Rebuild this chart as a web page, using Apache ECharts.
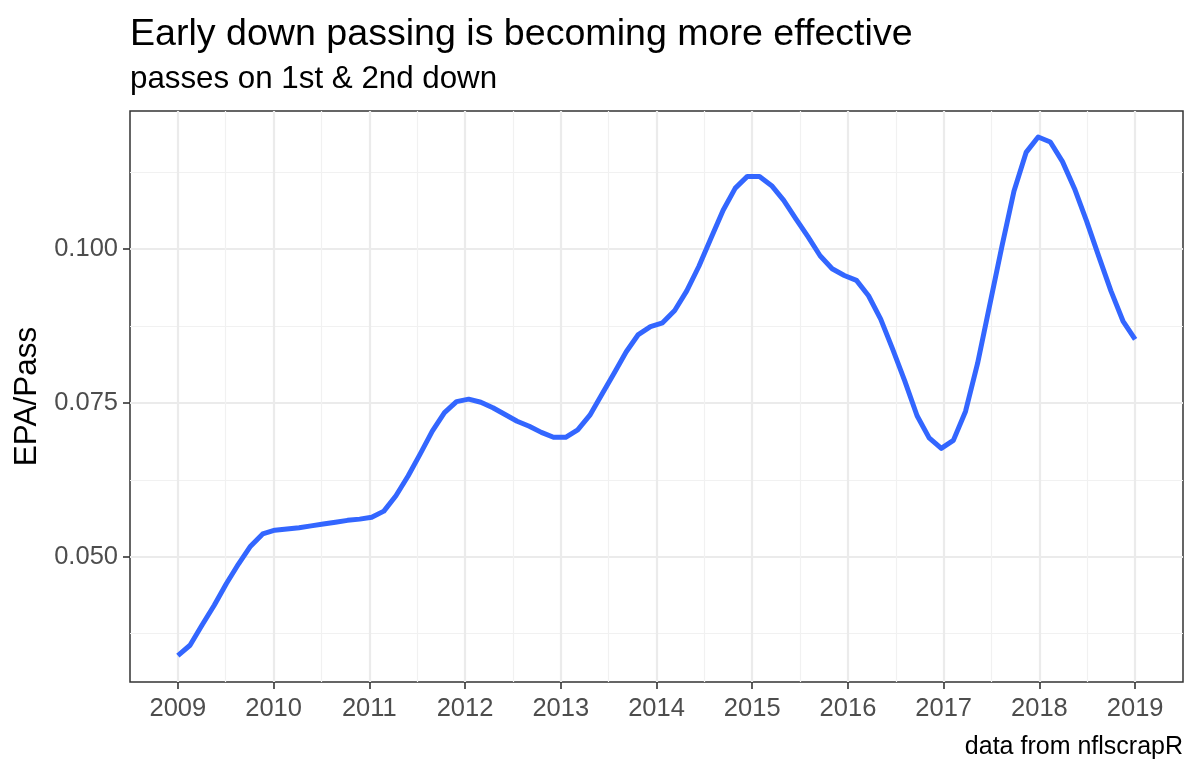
<!DOCTYPE html>
<html>
<head>
<meta charset="utf-8">
<script src="https://cdn.jsdelivr.net/npm/echarts@6/dist/echarts.min.js"></script>
<style>
html,body{margin:0;padding:0;background:#fff;}
#chart{width:1200px;height:775px;}
</style>
</head>
<body>
<div id="chart"></div>
<script>
// Loess evaluation points (80 points, 2009–2019)
const seasons = [
2009.000,2009.127,2009.253,2009.380,2009.506,2009.633,2009.759,2009.886,2010.013,2010.139,
2010.266,2010.392,2010.519,2010.646,2010.772,2010.899,2011.025,2011.152,2011.278,2011.405,
2011.532,2011.658,2011.785,2011.911,2012.038,2012.165,2012.291,2012.418,2012.544,2012.671,
2012.797,2012.924,2013.051,2013.177,2013.304,2013.430,2013.557,2013.684,2013.810,2013.937,
2014.063,2014.190,2014.316,2014.443,2014.570,2014.696,2014.823,2014.949,2015.076,2015.203,
2015.329,2015.456,2015.582,2015.709,2015.835,2015.962,2016.089,2016.215,2016.342,2016.468,
2016.595,2016.722,2016.848,2016.975,2017.101,2017.228,2017.354,2017.481,2017.608,2017.734,
2017.861,2017.987,2018.114,2018.241,2018.367,2018.494,2018.620,2018.747,2018.873,2019.000
];
const epaPerPass = [
0.0339,0.0356,0.0389,0.0421,0.0456,0.0488,0.0517,0.0537,0.0543,0.0545,
0.0547,0.0550,0.0553,0.0556,0.0559,0.0561,0.0564,0.0574,0.0599,0.0631,
0.0667,0.0704,0.0734,0.0752,0.0756,0.0751,0.0742,0.0731,0.0720,0.0712,
0.0702,0.0694,0.0694,0.0706,0.0730,0.0764,0.0798,0.0833,0.0861,0.0874,
0.0880,0.0900,0.0932,0.0972,0.1018,0.1063,0.1099,0.1118,0.1118,0.1103,
0.1079,0.1049,0.1020,0.0989,0.0968,0.0957,0.0949,0.0924,0.0886,0.0837,
0.0785,0.0729,0.0693,0.0676,0.0689,0.0736,0.0814,0.0909,0.1004,0.1094,
0.1157,0.1182,0.1174,0.1142,0.1098,0.1045,0.0988,0.0932,0.0883,0.0853
];
const xTicks = [2009,2010,2011,2012,2013,2014,2015,2016,2017,2018,2019];
const xMinorTicks = [2009.5,2010.5,2011.5,2012.5,2013.5,2014.5,2015.5,2016.5,2017.5,2018.5];
const yTicks = [0.050,0.075,0.100];
const yMinorTicks = [0.0375,0.0625,0.0875,0.1125];

const titleText = 'Early down passing is becoming more effective';
const subtitleText = 'passes on 1st & 2nd down';
const captionText = 'data from nflscrapR';
const yName = 'EPA/Pass';

const FONT = 'Liberation Sans, Arial, Helvetica, sans-serif';
const chart = echarts.init(document.getElementById('chart'), null, {renderer:'canvas'});
const data = seasons.map((s,i)=>[s, epaPerPass[i]]);

chart.setOption({
  animation:false,
  backgroundColor:'#ffffff',
  title:[
    {text:titleText,left:130,top:16,padding:0,textStyle:{fontFamily:FONT,fontSize:37.6,fontWeight:'normal',color:'#000000'}},
    {text:subtitleText,left:130,top:64,padding:0,textStyle:{fontFamily:FONT,fontSize:31.3,fontWeight:'normal',color:'#000000'}},
    {text:captionText,right:17,top:735,padding:0,textStyle:{fontFamily:FONT,fontSize:25,fontWeight:'normal',color:'#000000'}}
  ],
  grid:{left:130,right:17,top:111,bottom:93,containLabel:false,show:true,borderColor:'#333333',borderWidth:1.5,backgroundColor:'#ffffff'},
  xAxis:[
    {type:'value',min:2008.5,max:2019.5,
     axisLine:{show:false},
     axisTick:{show:true,length:7,customValues:xTicks,lineStyle:{color:'#333333',width:1.6}},
     axisLabel:{show:true,customValues:xTicks,margin:14,color:'#4D4D4D',fontSize:25.5,fontFamily:FONT,formatter:v=>String(Math.round(v))},
     splitLine:{show:true,lineStyle:{color:'#EBEBEB',width:2.2}}},
    {type:'value',min:2008.5,max:2019.5,
     axisLine:{show:false},axisTick:{show:false,customValues:xMinorTicks},axisLabel:{show:false,customValues:xMinorTicks},
     splitLine:{show:true,lineStyle:{color:'#F1F1F1',width:1.2}}}
  ],
  yAxis:[
    {type:'value',min:0.02963,max:0.12243,
     name:yName,nameLocation:'middle',nameGap:84,
     nameTextStyle:{fontFamily:FONT,fontSize:31.5,color:'#000000'},
     axisLine:{show:false},
     axisTick:{show:true,length:7,customValues:yTicks,lineStyle:{color:'#333333',width:1.6}},
     axisLabel:{show:true,customValues:yTicks,margin:12,color:'#4D4D4D',fontSize:25.5,fontFamily:FONT,formatter:v=>v.toFixed(3)},
     splitLine:{show:true,lineStyle:{color:'#EBEBEB',width:2.2}}},
    {type:'value',min:0.02963,max:0.12243,
     axisLine:{show:false},axisTick:{show:false,customValues:yMinorTicks},axisLabel:{show:false,customValues:yMinorTicks},
     splitLine:{show:true,lineStyle:{color:'#F1F1F1',width:1.2}}}
  ],
  series:[
    {type:'line',xAxisIndex:0,yAxisIndex:0,data:data,showSymbol:false,smooth:false,
     lineStyle:{color:'#3366FF',width:5,cap:'butt',join:'round'},z:10,silent:true}
  ]
});
</script>
</body>
</html>
